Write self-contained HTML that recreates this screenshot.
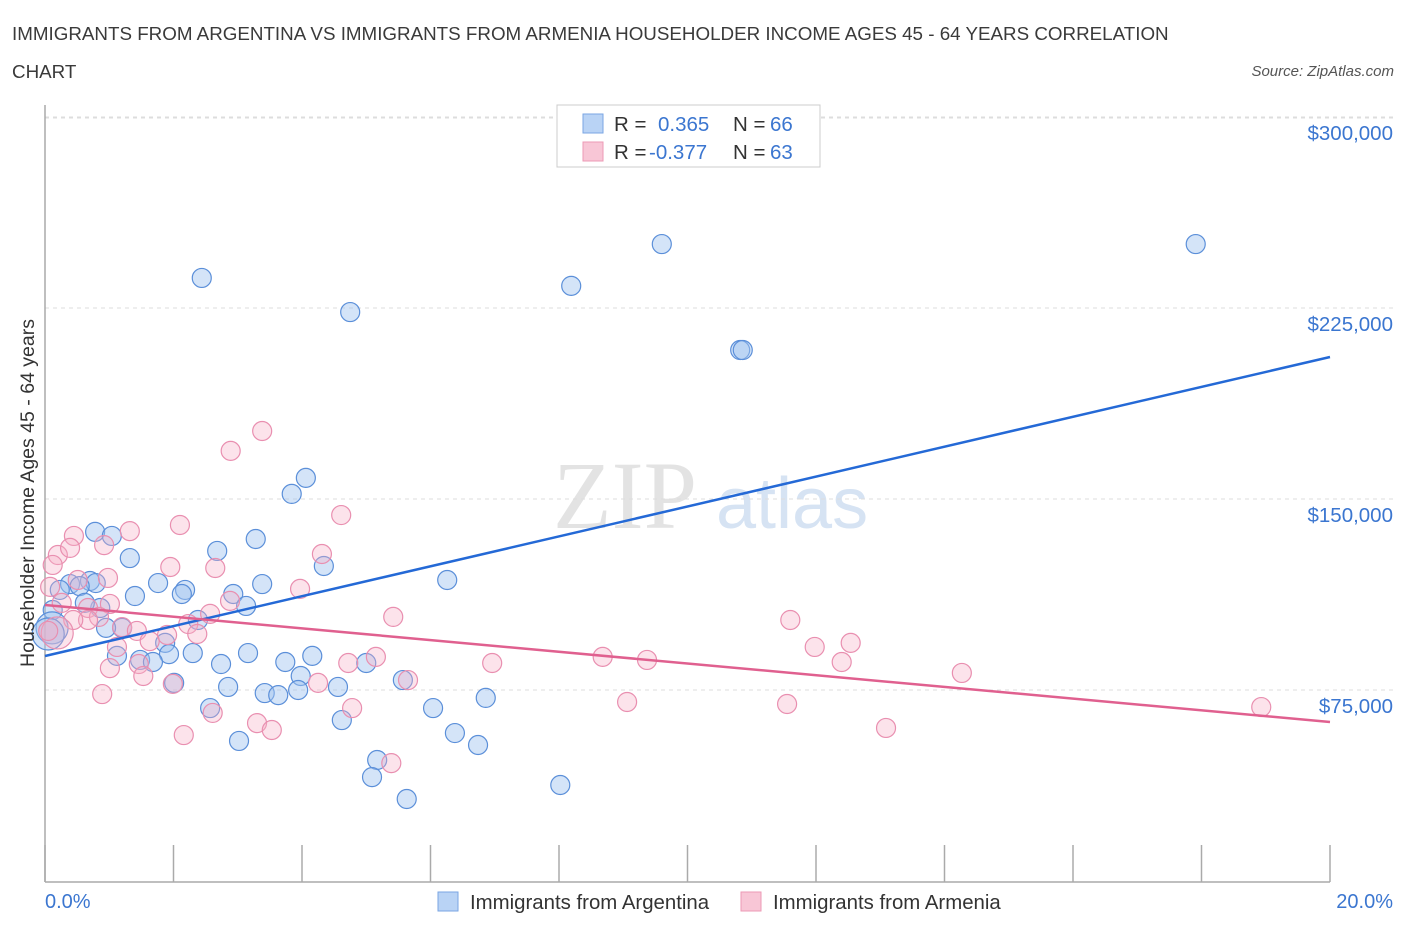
<!DOCTYPE html>
<html><head><meta charset="utf-8"><style>
body{margin:0;background:#fff;font-family:"Liberation Sans",sans-serif;}
svg{display:block}
</style></head><body>
<svg id="chart" width="1406" height="930" viewBox="0 0 1406 930">
<text x="12" y="40" font-size="18.8" fill="#3a3a3a">IMMIGRANTS FROM ARGENTINA VS IMMIGRANTS FROM ARMENIA HOUSEHOLDER INCOME AGES 45 - 64 YEARS CORRELATION</text>
<text x="12" y="78" font-size="18.8" fill="#3a3a3a">CHART</text>
<text x="1394" y="76" font-size="15" fill="#555" font-style="italic" text-anchor="end">Source: ZipAtlas.com</text>
<g>
<text x="553" y="528" font-size="96" font-family="Liberation Serif,serif" fill="#e3e3e3">ZIP</text>
<text x="716" y="528" font-size="72" fill="#d6e3f3">atlas</text>
</g>
<g id="grid"></g>
<g id="axes"></g>
<g id="marks"></g>
<g id="trends"></g>
<text transform="translate(34,493) rotate(-90)" font-size="19.5" fill="#333" text-anchor="middle">Householder Income Ages 45 - 64 years</text>
<g>
<rect x="557" y="105" width="263" height="62" fill="#fff" stroke="#ccc"/>
<rect x="583" y="114" width="20" height="19" fill="#b9d3f5" stroke="#7aa6e3"/>
<rect x="583" y="142" width="20" height="19" fill="#f8c6d6" stroke="#ec9ab5"/>
<text x="614" y="131" font-size="20.5" fill="#333">R =</text>
<text x="658" y="131" font-size="20.5" fill="#3b76d0">0.365</text>
<text x="733" y="131" font-size="20.5" fill="#333">N =</text>
<text x="770" y="131" font-size="20.5" fill="#3b76d0">66</text>
<text x="614" y="159" font-size="20.5" fill="#333">R =</text>
<text x="649" y="159" font-size="20.5" fill="#3b76d0">-0.377</text>
<text x="733" y="159" font-size="20.5" fill="#333">N =</text>
<text x="770" y="159" font-size="20.5" fill="#3b76d0">63</text>
</g>
<g>
<rect x="438" y="892" width="20" height="19" fill="#b9d3f5" stroke="#7aa6e3"/>
<text x="470" y="909" font-size="20.4" fill="#333">Immigrants from Argentina</text>
<rect x="741" y="892" width="20" height="19" fill="#f8c6d6" stroke="#ec9ab5"/>
<text x="773" y="909" font-size="20.4" fill="#333">Immigrants from Armenia</text>
</g>
</svg>
<script>
const yTicks=[75000,150000,225000,300000];
const yTickLabels=["$75,000","$150,000","$225,000","$300,000"];
const xTickLabels=["0.0%","20.0%"];
const blueX=[2.44,4.75,8.19,9.60,17.91,10.82,10.86,4.06,3.84,0.78,1.04,3.28,1.32,2.68,4.34,6.26,1.76,2.18,2.13,3.38,2.93,0.70,0.39,0.79,0.54,0.23,1.40,3.13,0.86,0.62,0.12,2.38,1.20,0.95,1.87,0.11,0.05,1.93,2.30,3.16,1.48,1.68,1.12,2.74,3.74,4.16,5.00,3.98,5.57,2.01,2.85,3.42,3.63,3.94,4.56,6.86,2.57,6.04,4.62,6.38,3.02,6.74,5.17,5.09,8.02,5.63];
const blueY=[236800,223400,233700,250100,250100,208500,208500,158300,152000,137100,135500,134300,126800,129600,123700,118200,117000,114300,112700,116600,112700,117800,116600,117000,115800,114300,111900,108000,107200,109200,106400,102500,99400,99400,93500,99400,97000,89100,89500,89500,86800,86000,88400,85200,86000,88400,85600,80500,78900,77800,76200,73800,73000,75000,76200,71900,67900,67900,63200,58100,55000,53400,47500,40800,37700,32200];
const blueBig=[35,36];
const pinkX=[2.89,3.38,4.61,2.10,0.45,1.32,0.20,0.39,0.92,4.31,0.12,1.95,2.65,0.98,0.08,0.51,3.97,1.01,2.88,2.57,0.67,5.42,11.60,0.84,0.26,0.67,1.20,2.23,1.43,1.90,2.37,0.44,0.19,1.63,11.98,12.54,1.12,1.46,1.01,4.72,5.15,6.96,8.68,9.37,12.40,1.53,14.27,1.99,4.25,5.65,0.89,9.06,11.55,18.93,4.78,2.61,3.30,3.53,13.09,2.16,5.39,0.05];
const pinkY=[168900,176700,143700,139800,135500,137400,128000,130800,131900,128400,124100,123300,122900,119000,115500,118200,114700,108800,110000,104900,107200,103700,102500,103700,109200,102500,99700,100900,98200,96600,97000,102500,97400,94200,91900,93500,91900,85200,83600,85600,88000,85600,88000,86800,86000,80500,81700,77400,77800,78900,73400,70300,69500,68300,67900,66000,62000,59300,60100,57300,46300,98200];
const pinkBig=[32];
const blueTrend=[88350,205760];
const pinkTrend=[108380,62430];
const NS="http://www.w3.org/2000/svg";
const X0=45,X1=1330,Y0=881,PXPERK=191/75000;
function sx(v){return X0+(v/20)*(X1-X0);}
function sy(v){return Y0-v*PXPERK;}
function el(t,a,p){const e=document.createElementNS(NS,t);for(const k in a)e.setAttribute(k,a[k]);p.appendChild(e);return e;}
const grid=document.getElementById('grid'),axes=document.getElementById('axes'),marks=document.getElementById('marks'),trends=document.getElementById('trends');
el('line',{x1:X0,x2:1393,y1:118,y2:118,stroke:'#ddd','stroke-dasharray':'4,4'},grid);
yTicks.forEach((t,i)=>{
 const g=el('line',{x1:X0,x2:1393,y1:sy(t),y2:sy(t),stroke:'#ddd','stroke-dasharray':'4,4'},grid);
 
 
 const tx=el('text',{x:1393,y:sy(t)+23,'font-size':20.5,fill:'#3b76d0','text-anchor':'end'},axes);
 tx.textContent=yTickLabels[i];
 
 
});
el('line',{x1:X0,x2:X0,y1:105,y2:882,stroke:'#aaa','stroke-width':1.5},axes);
el('line',{x1:X0,x2:X1,y1:882,y2:882,stroke:'#aaa','stroke-width':1.5},axes);
for(let i=0;i<=10;i++){
 const tk=el('line',{x1:sx(i*2),x2:sx(i*2),y1:845,y2:882,stroke:'#aaa','stroke-width':1.5},axes);
 
 
}
const xl0=el('text',{x:45,y:908,'font-size':20,fill:'#3b76d0'},axes);xl0.textContent=xTickLabels[0];


const xl1=el('text',{x:1393,y:908,'font-size':20,fill:'#3b76d0','text-anchor':'end'},axes);xl1.textContent=xTickLabels[1];


function pts(xs,ys,big,fill,stroke,name){
 xs.forEach((x,i)=>{
  const c=el('circle',{cx:sx(x),cy:sy(ys[i]),r:big.includes(i)?16:9.5,fill:fill,stroke:stroke,'stroke-width':1.2},marks);
  
  
 });
}
pts(blueX,blueY,blueBig,'rgba(160,196,240,0.45)','#5b8fd9','point-argentina');
pts(pinkX,pinkY,pinkBig,'rgba(246,175,198,0.35)','#e98fb0','point-armenia');
const bl=el('line',{x1:sx(0),y1:sy(blueTrend[0]),x2:sx(20),y2:sy(blueTrend[1]),stroke:'#2469d6','stroke-width':2.5},trends);


const pl=el('line',{x1:sx(0),y1:sy(pinkTrend[0]),x2:sx(20),y2:sy(pinkTrend[1]),stroke:'#e0608f','stroke-width':2.5},trends);


</script>
</body></html>
